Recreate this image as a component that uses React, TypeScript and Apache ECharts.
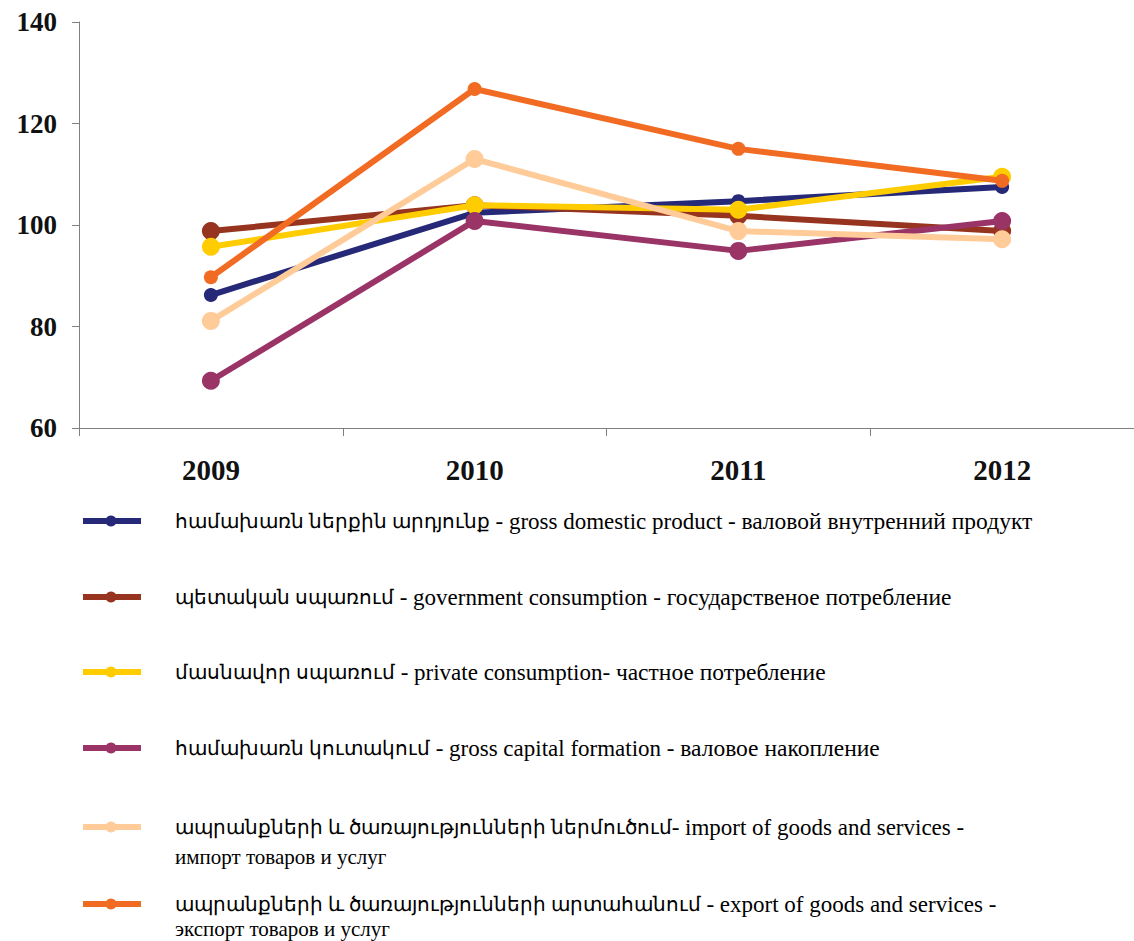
import React, { useEffect, useRef } from "react";
import * as echarts from "echarts";

const years = ["2009", "2010", "2011", "2012"];
const gdp = [86.2, 102.4, 104.7, 107.5];
const govCons = [98.8, 103.9, 101.8, 98.8];
const privCons = [95.7, 103.9, 103.0, 109.5];
const capForm = [69.3, 100.8, 94.9, 100.8];
const imports = [81.1, 113.0, 98.8, 97.2];
const exports = [89.7, 126.8, 115.0, 108.7];

// legend label parts: Armenian, English, Russian
const armLabels = [
  "համախառն ներքին արդյունք",
  "պետական սպառում",
  "մասնավոր սպառում",
  "համախառն կուտակում",
  "ապրանքների և ծառայությունների ներմուծում",
  "ապրանքների և ծառայությունների արտահանում",
];
const engLabels = [
  " - gross domestic product - ",
  " - government consumption - ",
  " - private consumption- ",
  " - gross capital formation - ",
  "- import of goods and services -",
  " - export of goods and services -",
];
const rusLabels = [
  "валовой внутренний продукт",
  "государственое потребление",
  "частное потребление",
  "валовое накопление",
  "импорт товаров и услуг",
  "экспорт товаров и услуг",
];
const rusOnSecondLine = [false, false, false, false, true, true];

const seriesData = [gdp, govCons, privCons, capForm, imports, exports];
const colors = ["#262977", "#96341f", "#ffcc00", "#9a3467", "#ffcc99", "#f26b23"];
const symbolSizes = [14, 18, 18, 18, 18, 14];
const legendY = [521, 597, 672, 748, 827, 904];
const secondLineY = [0, 0, 0, 0, 857, 929];

export default function App() {
  const ref = useRef<HTMLDivElement>(null);
  useEffect(() => {
    const chart = echarts.init(ref.current!, null, { renderer: "svg" });
    const serif = "Liberation Serif";
    const rich = {
      a: { fontFamily: serif, fontSize: 19.5, color: "#231f20" },
      b: { fontFamily: serif, fontSize: 23, color: "#231f20" },
      c: { fontFamily: serif, fontSize: 23.5, color: "#231f20" },
      d: { fontFamily: serif, fontSize: 21, color: "#231f20" },
    };
    const graphics: any[] = [];
    armLabels.forEach((arm, i) => {
      const y = legendY[i];
      graphics.push({
        type: "line",
        shape: { x1: 83, y1: y, x2: 141, y2: y },
        style: { stroke: colors[i], lineWidth: 6 },
      });
      graphics.push({
        type: "circle",
        shape: { cx: 111, cy: y, r: 5.5 },
        style: { fill: colors[i] },
      });
      const first = rusOnSecondLine[i]
        ? `{a|${arm}}{b|${engLabels[i]}}`
        : `{a|${arm}}{b|${engLabels[i]}}{c|${rusLabels[i]}}`;
      graphics.push({
        type: "text",
        x: 175,
        y: y,
        style: { text: first, rich, verticalAlign: "middle" },
      });
      if (rusOnSecondLine[i]) {
        graphics.push({
          type: "text",
          x: 175,
          y: secondLineY[i],
          style: { text: `{d|${rusLabels[i]}}`, rich, verticalAlign: "middle" },
        });
      }
    });

    chart.setOption({
      animation: false,
      backgroundColor: "#ffffff",
      grid: { left: 79, right: -6, top: 22, bottom: 513, containLabel: false },
      xAxis: {
        type: "category",
        data: years,
        boundaryGap: true,
        axisLine: { lineStyle: { color: "#808080", width: 1 } },
        axisTick: { show: true, length: 8, lineStyle: { color: "#808080" } },
        axisLabel: {
          margin: 27,
          fontFamily: serif,
          fontWeight: "bold",
          fontSize: 29,
          color: "#111111",
        },
      },
      yAxis: {
        type: "value",
        min: 60,
        max: 140,
        interval: 20,
        axisLine: { show: true, lineStyle: { color: "#808080", width: 1 } },
        axisTick: { show: true, length: 7, lineStyle: { color: "#808080" } },
        splitLine: { show: false },
        axisLabel: {
          margin: 22,
          fontFamily: serif,
          fontWeight: "bold",
          fontSize: 27,
          color: "#111111",
        },
      },
      series: seriesData.map((d, i) => ({
        name: armLabels[i],
        type: "line",
        data: d,
        symbol: "circle",
        symbolSize: symbolSizes[i],
        lineStyle: { color: colors[i], width: 6 },
        itemStyle: { color: colors[i] },
        z: 2 + i,
      })),
      graphic: graphics,
    });
    return () => chart.dispose();
  }, []);
  return (
    <div
      ref={ref}
      style={{ position: "absolute", left: 0, top: 0, width: 1134, height: 941 }}
    />
  );
}
